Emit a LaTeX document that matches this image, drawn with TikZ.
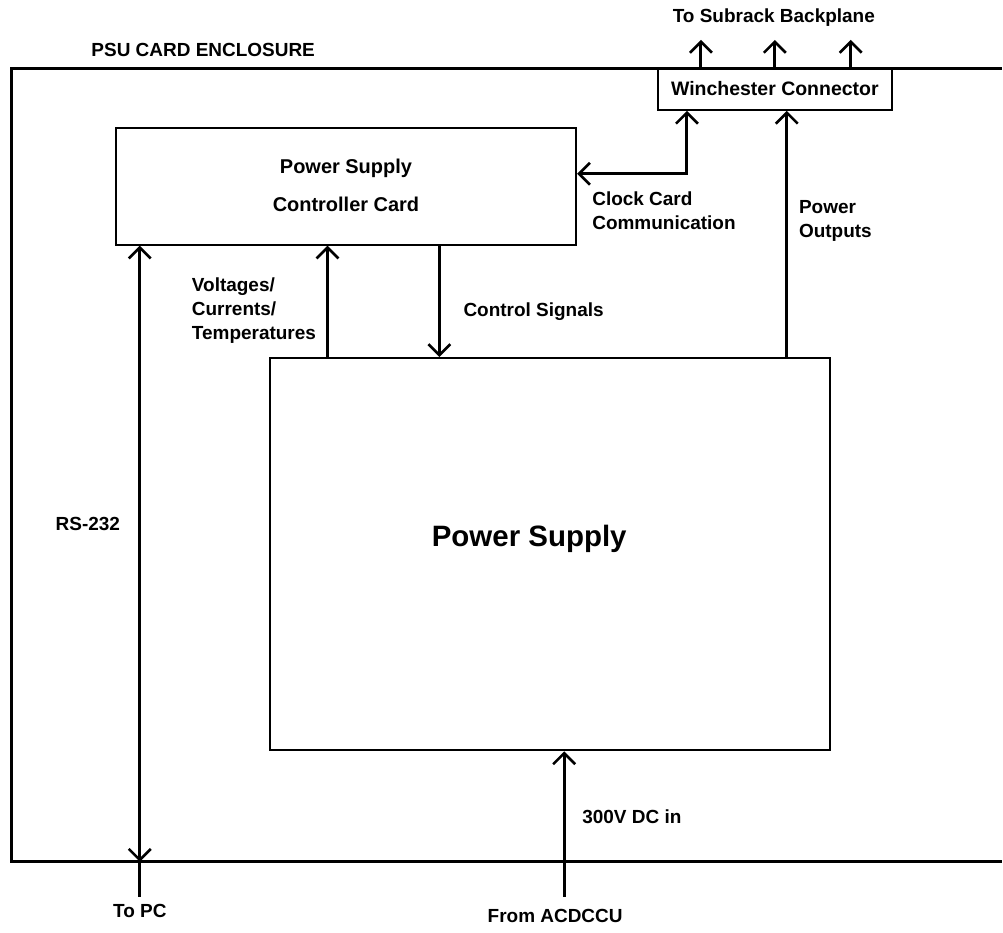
\documentclass[tikz,border=0pt]{standalone}
\usepackage{fontspec}
\setmainfont{Liberation Sans}
\usetikzlibrary{arrows.meta}

\tikzset{
  box/.style={draw, line width=2pt, inner sep=0pt},
  sig/.style={line width=3pt},
  vtip/.tip={Straight Barb[length=11pt,width=22pt,line width=2.6pt]},
  lbl/.style={font=\fontsize{19}{24}\selectfont\bfseries, inner sep=0pt, align=left},
}

\begin{document}
\begin{tikzpicture}[x=1pt, y=-1pt, line join=miter]

  % ── 画布：1003 x 934 ──
  \fill[white] (0,0) rectangle (1003,934);

  % ── 外壳：右边超出画面，只画上、左、下三边 ──
  \draw[line width=3pt] (1003,69) -- (12,69) -- (12,863) -- (1003,863);
  \node[lbl, anchor=center] (encl) at (203.5,50) {PSU CARD ENCLOSURE};

  % ── 三个方框 ──
  \node[box, minimum width=461pt, minimum height=117pt] (card) at (346.5,186.5) {};
  \node[font=\fontsize{20}{38}\selectfont\bfseries, align=center] (cardtxt) at (346.5,186)
    {Power Supply\\Controller Card};
  \node[box, minimum width=561pt, minimum height=393pt] (psu) at (550.5,555) {};
  \node[font=\fontsize{29.5}{34}\selectfont\bfseries, inner sep=0pt] (psutxt) at (530,540) {Power Supply};
  \node[box, minimum width=234pt, minimum height=42pt,
        font=\fontsize{19.5}{24}\selectfont\bfseries] (winch) at (776,89) {Winchester Connector};

  % ── 辅助坐标：各连线的 x 位置与自由端 ──
  \coordinate (rs)   at (140,898);
  \coordinate (vct)  at (328,0);
  \coordinate (cs)   at (440,0);
  \coordinate (dcin) at (565,898);
  \coordinate (clk)  at (688,174);
  \coordinate (pout) at (788,0);

  % ── 背板三根输出箭头 ──
  \foreach \x in {702,776,852}
    \draw[sig,-{vtip}] (\x,69) -- (\x,40);
  \node[lbl, anchor=center] (backpl) at (775,18) {To Subrack Backplane};

  % ── RS-232：双向，穿出外壳 ──
  \draw[sig,{vtip}-{vtip}] (rs |- card.south) -- (rs |- 0,863);
  \draw[sig] (rs |- 0,863) -- (rs);
  \node[lbl, anchor=center] (rstxt) at (88,525) {RS-232};
  \node[lbl, anchor=center] (topc) at (140,912) {To PC};

  % ── 电压/电流/温度 ──
  \draw[sig,-{vtip}] (vct |- psu.north) -- (vct |- card.south);
  \node[lbl, anchor=west] (vcttxt) at (192,311) {Voltages/\\Currents/\\Temperatures};

  % ── 控制信号 ──
  \draw[sig,-{vtip}] (cs |- card.south) -- (cs |- psu.north);
  \node[lbl, anchor=west] (cstxt) at (464,312) {Control Signals};

  % ── 时钟卡通信 ──
  \draw[sig,{vtip}-{vtip}] (card.east |- clk) -- (clk) -- (clk |- winch.south);
  \node[lbl, anchor=west] (clktxt) at (593,211) {Clock Card\\Communication};

  % ── 电源输出 ──
  \draw[sig,-{vtip}] (pout |- psu.north) -- (pout |- winch.south);
  \node[lbl, anchor=west] (pouttxt) at (800,221) {Power\\Outputs};

  % ── 300V 直流输入 ──
  \draw[sig,-{vtip}] (dcin) -- (dcin |- psu.south);
  \node[lbl, anchor=west] (dctxt) at (583,818) {300V DC in};
  \node[lbl, anchor=center] (acdc) at (556,917) {From ACDCCU};

  \path[use as bounding box] (0,0) rectangle (1003,934);
\end{tikzpicture}
\end{document}
